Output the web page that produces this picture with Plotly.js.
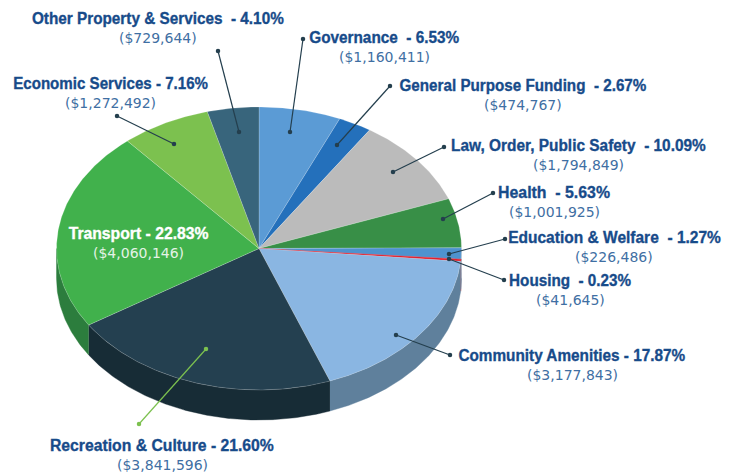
<!DOCTYPE html>
<html><head><meta charset="utf-8">
<script src="https://cdn.plot.ly/plotly-3.0.1.min.js"></script>
<style>html,body{margin:0;padding:0;background:#fff}#c{width:733px;height:475px}</style>
</head><body><div id="c"></div>
<script>
// Data, clockwise from 12 o'clock
const categories = ["Governance","General Purpose Funding","Law, Order, Public Safety","Health","Education & Welfare","Housing","Community Amenities","Recreation & Culture","Transport","Economic Services","Other Property & Services"];
const amounts = [1160411,474767,1794849,1001925,226486,41645,3177843,3841596,4060146,1272492,729644];
const percents = ["6.53","2.67","10.09","5.63","1.27","0.23","17.87","21.60","22.83","7.16","4.10"];
const separators = ["\u00a0 - ","\u00a0 - ","\u00a0 - ","\u00a0 - ","\u00a0 - ","\u00a0 - "," - "," - "," - "," - ","\u00a0 - "];
const topColors = ["#5b9bd5","#2470bb","#bbbbbb","#388f47","#4e93cf","#e2202e","#8ab6e2","#244050","#41b14c","#7cc14f","#38657c"];
const sideColors = ["#3f6c95","#194e83","#838383","#276432","#5f809c","#9e1620","#5f809c","#172c36","#2c7d3d","#568735","#274757"];

// Drawing configuration
const cx = 259, cy = 248.5, rx = 202.5, ry = 141.5, depth = 30;
const titleX = [384,522.5,578.5,554,614.5,570,571.5,162,138,110.5,158];
const subX = [384,523,578,554,614,570,572,162,138,110,158];
const labelY = [37,85,145,192,237,280,355,445,233,83,18];
const titleWidths = [150,247,255,112,213,122,227,224,140,195,252];
const leaders = [[303,39,290,132],[390,86,337,145],[444,147,393,172],[493,193,443,219],[505,239,449,254],[504,280,449,259],[450,355,396,335],[139,424,206,349],null,[117,116,174,144],[218,51,239,132]];
const leaderColors = categories.map((_, i) => i === 7 ? "#7cc14f" : "#243f4e");

const total = amounts.reduce((a, b) => a + b, 0);
const px = t => cx + rx * Math.sin(t), py = t => cy - ry * Math.cos(t);
const traces = [];
const arc = (a, b, dy) => {
  const n = Math.max(2, Math.ceil((b - a) / 0.01)), xs = [], ys = [];
  for (let k = 0; k <= n; k++) { const t = a + (b - a) * k / n; xs.push(px(t)); ys.push(py(t) + dy); }
  return [xs, ys];
};
const polygon = (xs, ys, fill, edge, w) => traces.push({type:"scatter",mode:"lines",x:xs,y:ys,fill:"toself",fillcolor:fill,
  line:{color:edge,width:w},hoverinfo:"skip",showlegend:false});

// angles
const spans = []; let acc = 0;
amounts.forEach(v => { const a = acc / total * 2 * Math.PI; acc += v; spans.push([a, acc / total * 2 * Math.PI]); });

// visible sides (front half)
spans.forEach(([a, b], i) => {
  const lo = Math.max(a, Math.PI / 2), hi = Math.min(b, 3 * Math.PI / 2);
  if (hi <= lo) return;
  const [x1, y1] = arc(lo, hi, 0), [x2, y2] = arc(lo, hi, depth);
  polygon(x1.concat(x2.reverse()), y1.concat(y2.reverse()), sideColors[i], sideColors[i], 0.4);
});
// top faces
spans.forEach(([a, b], i) => {
  const [x, y] = arc(a, b, 0);
  const red = i === 5;
  polygon([cx].concat(x, [cx]), [cy].concat(y, [cy]), topColors[i], red ? topColors[i] : "rgba(255,255,255,0.3)", red ? 0.4 : 0.6);
});
// leader lines
leaders.forEach((l, i) => { if (!l) return;
  traces.push({type:"scatter",mode:"lines+markers",x:[l[0],l[2]],y:[l[1],l[3]],
    line:{color:leaderColors[i],width:1.2},marker:{color:leaderColors[i],size:4.5},hoverinfo:"skip",showlegend:false});
});

const annotations = [];
categories.forEach((c, i) => {
  const white = i === 8;
  annotations.push({x:titleX[i],y:labelY[i],xref:"x",yref:"y",showarrow:false,xanchor:"center",yanchor:"middle",
    text:"<b>"+c.replace(/&/g,"&amp;")+separators[i]+percents[i]+"%</b>",
    font:{family:"'Liberation Sans',sans-serif",size:17,color:white?"#ffffff":"#174b8a"}});
  annotations.push({x:subX[i],y:labelY[i]+19.5,xref:"x",yref:"y",showarrow:false,xanchor:"center",yanchor:"middle",
    text:"($"+amounts[i].toLocaleString("en-US")+")",
    font:{family:"'DejaVu Sans',sans-serif",size:14,color:white?"#e4f3e6":"#3f6fa3"}});
});

Plotly.newPlot("c", traces, {
  width:733,height:475,margin:{l:0,r:0,t:0,b:0},paper_bgcolor:"#fff",plot_bgcolor:"#fff",showlegend:false,
  xaxis:{range:[0,733],visible:false,fixedrange:true},
  yaxis:{range:[475,0],visible:false,fixedrange:true},
  annotations
},{displayModeBar:false,staticPlot:true}).then(gd => {
  // The reference uses a condensed heavy face: narrow each bold title to its measured width.
  const texts = gd.querySelectorAll(".annotation-text");
  categories.forEach((c, i) => {
    const t = texts[2 * i]; if (!t) return;
    const s = titleWidths[i] / t.getBBox().width;
    t.style.transformBox = "fill-box";
    t.style.transformOrigin = "center";
    t.style.transform = "scaleX(" + s + ")";
    t.style.stroke = i === 8 ? "#ffffff" : "#174b8a";
    t.style.strokeWidth = "0.35px";
  });
});
</script></body></html>
